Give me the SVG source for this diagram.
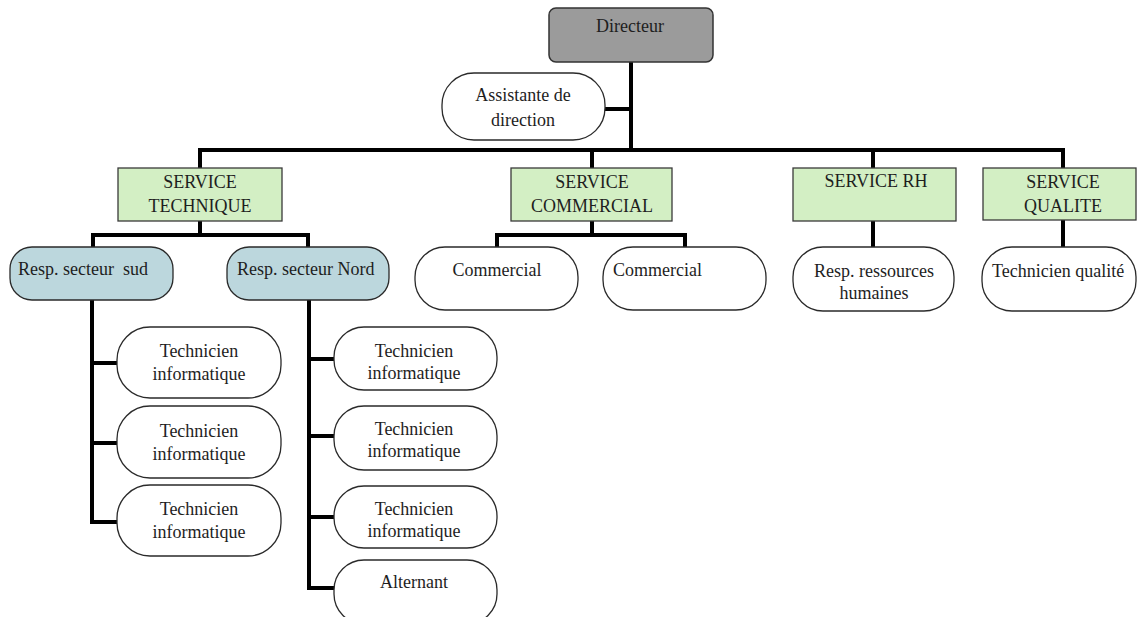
<svg xmlns="http://www.w3.org/2000/svg" width="1139" height="617" viewBox="0 0 1139 617">
<style>
text{font-family:"Liberation Serif","Times New Roman",serif;font-size:18px;fill:#1e1e1e}
.c{text-anchor:middle}
.pill{fill:#fff;stroke:#2a2a2a;stroke-width:1.3}
.blue{fill:#bcd7dd;stroke:#2a2a2a;stroke-width:1.3}
.green{fill:#d3efc4;stroke:#3a3a3a;stroke-width:1.3}
.dir{fill:#9b9b9b;stroke:#333;stroke-width:1.5}
.ln{fill:none;stroke:#000;stroke-width:4;stroke-linejoin:miter;stroke-linecap:square}
</style>
<rect width="1139" height="617" fill="#fff"/>
<g id="connectors">
<path class="ln" d="M631 62V150M605 109H631M200 150H1063M200 150V168M592 150V168M873 150V168M1063 150V168"/>
<path class="ln" d="M200 221V235M93 247V235H308V247"/>
<path class="ln" d="M592 221V235M497 247V235H685V247"/>
<path class="ln" d="M873 221V247M1063 220V247"/>
<path class="ln" d="M92 300V522H117M92 363H117M92 443H117"/>
<path class="ln" d="M309 300V588H334M309 359H334M309 436H334M309 517H334"/>
</g>
<g id="directeur"><rect class="dir" x="549" y="8" width="164" height="54" rx="7"/><text class="c" x="630" y="32">Directeur</text></g>
<g id="assistante"><rect class="pill" x="442" y="73" width="163" height="67" rx="32"/><text class="c" x="523" y="101">Assistante de</text><text class="c" x="523" y="126">direction</text></g>
<g id="service-technique"><rect class="green" x="118" y="168" width="164" height="53"/><text class="c" x="200" y="188">SERVICE</text><text class="c" x="200" y="212">TECHNIQUE</text></g>
<g id="service-commercial"><rect class="green" x="511" y="168" width="161" height="53"/><text class="c" x="592" y="188">SERVICE</text><text class="c" x="592" y="212">COMMERCIAL</text></g>
<g id="service-rh"><rect class="green" x="793" y="168" width="163" height="53"/><text class="c" x="876" y="187">SERVICE RH</text></g>
<g id="service-qualite"><rect class="green" x="983" y="168" width="153" height="52"/><text class="c" x="1063" y="188">SERVICE</text><text class="c" x="1063" y="212">QUALITE</text></g>
<g id="resp-sud"><rect class="blue" x="10" y="247" width="163" height="53" rx="22"/><text x="18" y="275" xml:space="preserve">Resp. secteur  sud</text></g>
<g id="resp-nord"><rect class="blue" x="227" y="247" width="162" height="53" rx="22"/><text x="237" y="275">Resp. secteur Nord</text></g>
<g id="commercial-1"><rect class="pill" x="415" y="247" width="163" height="63" rx="30"/><text class="c" x="497" y="276">Commercial</text></g>
<g id="commercial-2"><rect class="pill" x="603" y="247" width="163" height="63" rx="30"/><text x="613" y="276">Commercial</text></g>
<g id="resp-rh"><rect class="pill" x="793" y="247" width="161" height="64" rx="30"/><text class="c" x="874" y="277">Resp. ressources</text><text class="c" x="874" y="299">humaines</text></g>
<g id="tech-qualite"><rect class="pill" x="982" y="247" width="154" height="64" rx="30"/><text x="992" y="277">Technicien qualité</text></g>
<g id="tech-sud-1"><rect class="pill" x="117" y="327" width="164" height="71" rx="33"/><text class="c" x="199" y="357">Technicien</text><text class="c" x="199" y="380">informatique</text></g>
<g id="tech-sud-2"><rect class="pill" x="117" y="406" width="164" height="72" rx="33"/><text class="c" x="199" y="437">Technicien</text><text class="c" x="199" y="460">informatique</text></g>
<g id="tech-sud-3"><rect class="pill" x="117" y="485" width="164" height="71" rx="33"/><text class="c" x="199" y="515">Technicien</text><text class="c" x="199" y="538">informatique</text></g>
<g id="tech-nord-1"><rect class="pill" x="334" y="327" width="163" height="63" rx="30"/><text class="c" x="414" y="357">Technicien</text><text class="c" x="414" y="379">informatique</text></g>
<g id="tech-nord-2"><rect class="pill" x="334" y="406" width="163" height="64" rx="30"/><text class="c" x="414" y="435">Technicien</text><text class="c" x="414" y="457">informatique</text></g>
<g id="tech-nord-3"><rect class="pill" x="334" y="486" width="163" height="62" rx="30"/><text class="c" x="414" y="515">Technicien</text><text class="c" x="414" y="537">informatique</text></g>
<g id="alternant"><rect class="pill" x="334" y="560" width="163" height="64" rx="30"/><text class="c" x="414" y="588">Alternant</text></g>
</svg>
